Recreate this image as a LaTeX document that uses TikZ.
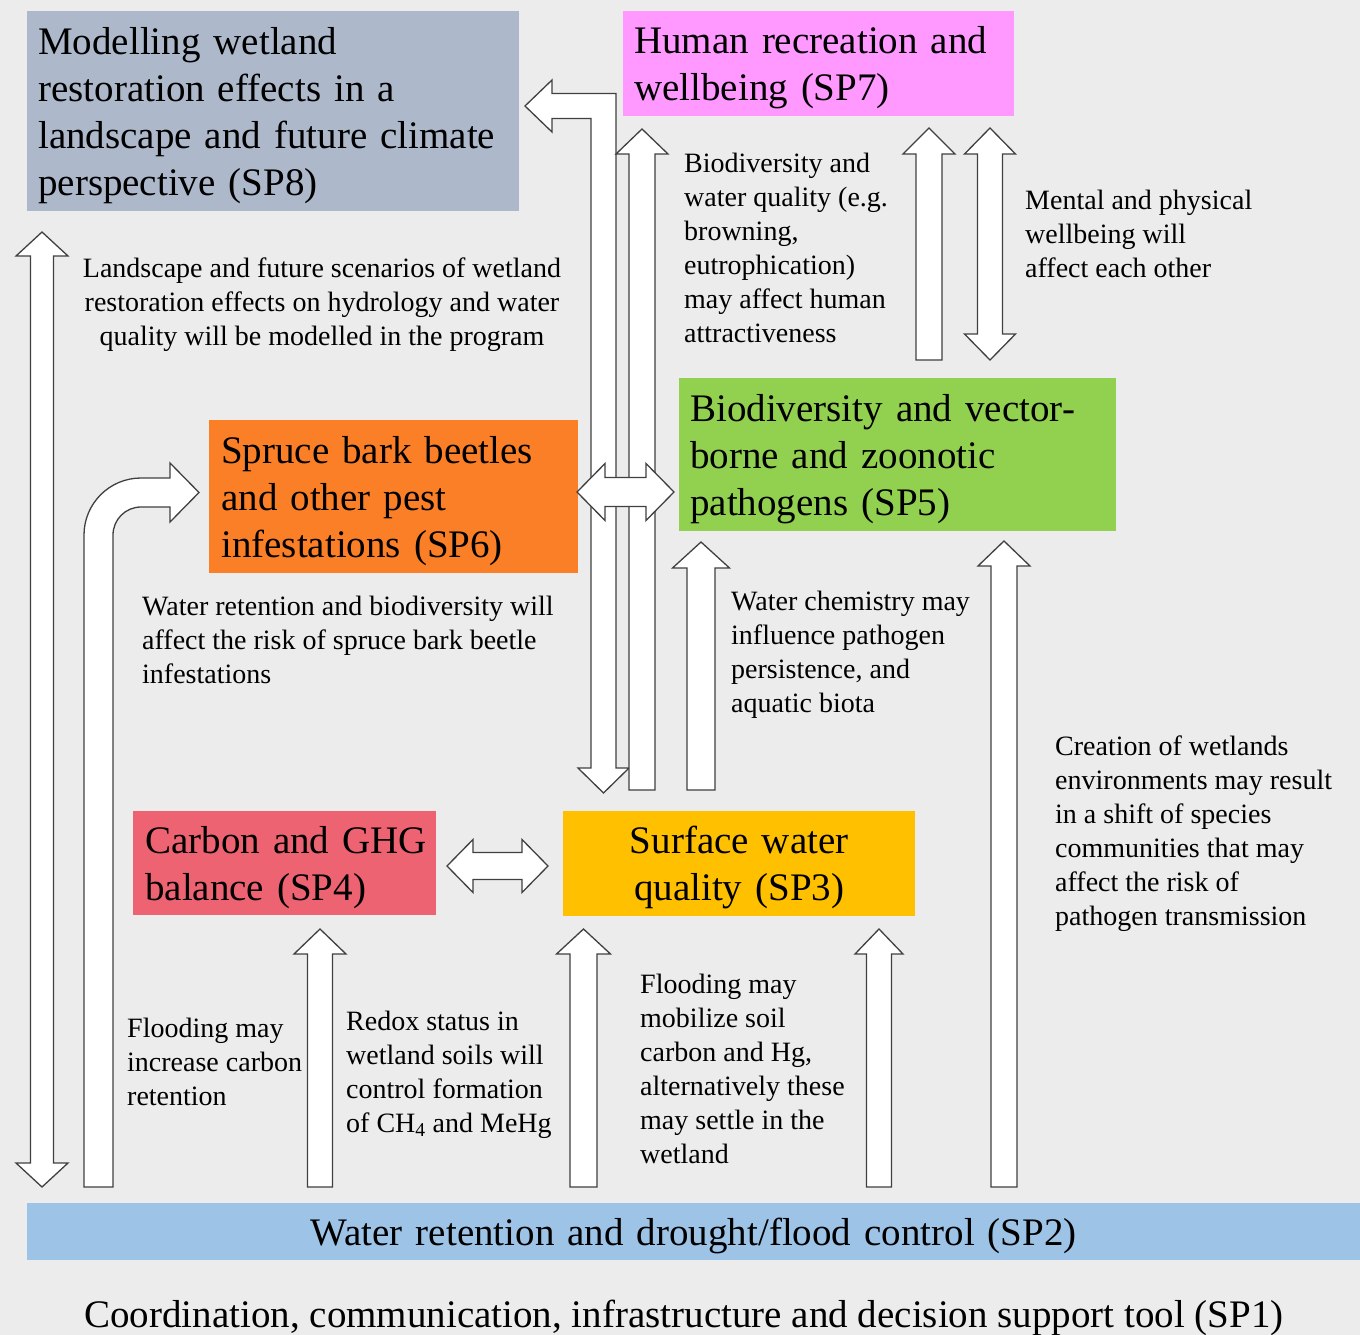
\documentclass[tikz,border=0pt]{standalone}
\usepackage{fontspec}
\setmainfont{Liberation Serif}
\usetikzlibrary{calc}
\definecolor{bgc}{HTML}{ECECEC}
\definecolor{c8}{HTML}{ADB9CA}
\definecolor{c7}{HTML}{FF99FF}
\definecolor{c5}{HTML}{92D050}
\definecolor{c6}{HTML}{FA7F26}
\definecolor{c4}{HTML}{EE6371}
\definecolor{c3}{HTML}{FFC000}
\definecolor{c2}{HTML}{9DC3E6}
\definecolor{edgec}{HTML}{404040}
\newcommand{\setarrow}[3]{\def\arsw{#1}\def\arhw{#2}\def\arhl{#3}}
\setarrow{13pt}{26pt}{25pt}
% vertical single arrow: tail #1 (bottom), tip #2 (top)
\newcommand{\uparrowbox}[2]{\draw[blockarrow] let \p1=(#1), \p2=(#2) in
  ({\x1-\arsw},\y1) -- ({\x1-\arsw},{\y2-\arhl}) -- ({\x1-\arhw},{\y2-\arhl}) -- (\x1,\y2)
  -- ({\x1+\arhw},{\y2-\arhl}) -- ({\x1+\arsw},{\y2-\arhl}) -- ({\x1+\arsw},\y1) -- cycle;}
% vertical double arrow: tip #1 (top), tip #2 (bottom)
\newcommand{\vdoublebox}[2]{\draw[blockarrow] let \p1=(#1), \p2=(#2) in
  (\x1,\y1) -- ({\x1+\arhw},{\y1-\arhl}) -- ({\x1+\arsw},{\y1-\arhl}) -- ({\x1+\arsw},{\y2+\arhl})
  -- ({\x1+\arhw},{\y2+\arhl}) -- (\x1,\y2) -- ({\x1-\arhw},{\y2+\arhl}) -- ({\x1-\arsw},{\y2+\arhl})
  -- ({\x1-\arsw},{\y1-\arhl}) -- ({\x1-\arhw},{\y1-\arhl}) -- cycle;}
% horizontal double arrow: tip #1 (left), tip #2 (right)
\newcommand{\hdoublebox}[2]{\draw[blockarrow] let \p1=(#1), \p2=(#2) in
  (\x1,\y1) -- ({\x1+\arhl},{\y1+\arhw}) -- ({\x1+\arhl},{\y1+\arsw}) -- ({\x2-\arhl},{\y1+\arsw})
  -- ({\x2-\arhl},{\y1+\arhw}) -- (\x2,\y1) -- ({\x2-\arhl},{\y1-\arhw}) -- ({\x2-\arhl},{\y1-\arsw})
  -- ({\x1+\arhl},{\y1-\arsw}) -- ({\x1+\arhl},{\y1-\arhw}) -- cycle;}
\newcommand{\lns}[1]{\begin{tabular}[t]{@{}l@{}}#1\end{tabular}}
\newcommand{\clns}[1]{\begin{tabular}[t]{@{}c@{}}#1\end{tabular}}
\newcommand{\btl}[1]{\begin{tabular}{@{}l@{}}\rule{0pt}{41pt}#1\end{tabular}}
\newcommand{\btc}[1]{\begin{tabular}{@{}c@{}}\rule{0pt}{41pt}#1\end{tabular}}
\begin{document}
\begin{tikzpicture}[x=1pt,y=-1pt,
  blockarrow/.style={draw=edgec, fill=white, line width=1.3pt, line join=miter},
  box/.style={anchor=north west, inner xsep=11pt, inner ysep=0pt, draw=none,
    font=\fontsize{39}{47}\selectfont, align=left},
  captext/.style={inner sep=0pt, font=\fontsize{28}{34}\selectfont, anchor=base west}]
\useasboundingbox (0,0) rectangle (1360,1335);
\fill[bgc] (0,0) rectangle (1360,1335);

% boxes
\node[box, fill=c8, text width=470pt, minimum height=200pt] (sp8) at (27,11)
  {\btl{Modelling wetland\\restoration effects in a\\landscape and future climate\\perspective (SP8)}};
\node[box, fill=c7, text width=369pt, minimum height=105pt] (sp7) at (623,11)
  {\btl{Human recreation and\\wellbeing (SP7)}};
\node[box, fill=c5, text width=415pt, minimum height=153pt] (sp5) at (679,378)
  {\btl{Biodiversity and vector-\\borne and zoonotic\\pathogens (SP5)}};
\node[box, fill=c6, inner xsep=12pt, text width=345pt, minimum height=153pt] (sp6) at (209,420)
  {\btl{Spruce bark beetles\\and other pest\\infestations (SP6)}};
\node[box, fill=c4, inner xsep=12pt, text width=279pt, minimum height=104pt] (sp4) at (133,811)
  {\btl{Carbon and GHG\\balance (SP4)}};
\node[box, fill=c3, align=center, text width=330pt, minimum height=105pt] (sp3) at (563,811)
  {\btc{Surface water\\quality (SP3)}};
\node[box, fill=c2, align=center, text width=1311pt, minimum height=57pt] (sp2) at (27,1203)
  {\btc{Water retention and drought/flood control (SP2)}};
\node[inner sep=0pt, anchor=base, font=\fontsize{39}{47}\selectfont] (sp1) at (684,1327)
  {Coordination, communication, infrastructure and decision support tool (SP1)};

% arrow end points
\coordinate (a8t) at (42,232);   \coordinate (a8b) at (42,1187);
\coordinate (b6t) at (98.5,1187); \coordinate (b6h) at (199,492.5);
\coordinate (c8h) at (525,106);  \coordinate (c3h) at (603.5,793);
\coordinate (d3t) at (642,790);  \coordinate (d7h) at (642,129);
\coordinate (e3t) at (701,790);  \coordinate (e5h) at (701,542);
\coordinate (f2t) at (1004,1187); \coordinate (f5h) at (1004,541);
\coordinate (g2t) at (583.5,1187); \coordinate (g3h) at (583.5,929);
\coordinate (h2t) at (879,1187); \coordinate (h3h) at (879,929);
\coordinate (i2t) at (320,1187); \coordinate (i4h) at (320,929);
\coordinate (j5t) at (929,360);  \coordinate (j7h) at (929,128);
\coordinate (k7h) at (990,128);  \coordinate (k5h) at (990,360);
\coordinate (l6h) at (577,492);  \coordinate (l5h) at (674,492);
\coordinate (m4h) at (447,866);  \coordinate (m3h) at (548,866);

% SP8 <-> SP2 (left)
\setarrow{11.5pt}{26pt}{24pt}
\vdoublebox{a8t}{a8b}

% SP2 -> SP6 (curved)
\draw[blockarrow] let \p1=(b6t), \p2=(b6h) in
  ({\x1-14.5pt},\y1) -- ({\x1-14.5pt},{\y2+14.5pt-57pt})
  arc[start angle=180, end angle=90, radius=57pt]
  -- ({\x2-29pt},{\y2+14.5pt}) -- ({\x2-29pt},{\y2+29.5pt}) -- (\x2,\y2)
  -- ({\x2-29pt},{\y2-29.5pt}) -- ({\x2-29pt},{\y2-14.5pt})
  -- ({\x1-14.5pt+57pt},{\y2-14.5pt})
  arc[start angle=90, end angle=180, radius=28pt]
  -- ({\x1+14.5pt},\y1) -- cycle;

% SP8 <-> SP3 (bent)
\draw[blockarrow] let \p1=(c8h), \p2=(c3h) in
  (\x1,\y1) -- ({\x1+27pt},{\y1+26pt}) -- ({\x1+27pt},{\y1+12.5pt})
  -- ({\x2+12.5pt},{\y1+12.5pt}) -- ({\x2+12.5pt},{\y2+25pt}) -- ({\x2+25.5pt},{\y2+25pt})
  -- (\x2,\y2) -- ({\x2-25.5pt},{\y2+25pt}) -- ({\x2-12.5pt},{\y2+25pt})
  -- ({\x2-12.5pt},{\y1-12.5pt}) -- ({\x1+27pt},{\y1-12.5pt}) -- ({\x1+27pt},{\y1-26pt}) -- cycle;

% single up arrows
\setarrow{13pt}{26pt}{25pt}
\uparrowbox{d3t}{d7h}
\setarrow{14pt}{28.5pt}{26pt}
\uparrowbox{e3t}{e5h}
\setarrow{13pt}{26pt}{25pt}
\uparrowbox{f2t}{f5h}
\setarrow{13.5pt}{27pt}{25pt}
\uparrowbox{g2t}{g3h}
\setarrow{12.5pt}{24pt}{25pt}
\uparrowbox{h2t}{h3h}
\setarrow{12.5pt}{26pt}{25pt}
\uparrowbox{i2t}{i4h}
\setarrow{13pt}{26pt}{26pt}
\uparrowbox{j5t}{j7h}

% SP7 <-> SP5
\setarrow{12.5pt}{25.5pt}{26pt}
\vdoublebox{k7h}{k5h}

% SP6 <-> SP5
\setarrow{14.5pt}{28.5pt}{28pt}
\hdoublebox{l6h}{l5h}

% SP4 <-> SP3
\setarrow{13.5pt}{26.5pt}{26pt}
\hdoublebox{m4h}{m3h}

% captions
\node[captext] (t87) at (684,172)
  {\lns{Biodiversity and\\water quality (e.g.\\browning,\\eutrophication)\\may affect human\\attractiveness}};
\node[captext] (t77) at (1025,209)
  {\lns{Mental and physical\\wellbeing will\\affect each other}};
\node[captext, anchor=base] (t82) at (322,277)
  {\clns{Landscape and future scenarios of wetland\\restoration effects on hydrology and water\\quality will be modelled in the program}};
\node[captext] (t62) at (142,615)
  {\lns{Water retention and biodiversity will\\affect the risk of spruce bark beetle\\infestations}};
\node[captext] (t53) at (731,610)
  {\lns{Water chemistry may\\influence pathogen\\persistence, and\\aquatic biota}};
\node[captext] (t52) at (1055,755)
  {\lns{Creation of wetlands\\environments may result\\in a shift of species\\communities that may\\affect the risk of\\pathogen transmission}};
\node[captext] (t42) at (127,1037)
  {\lns{Flooding may\\increase carbon\\retention}};
\node[captext] (t42b) at (346,1030)
  {\lns{Redox status in\\wetland soils will\\control formation\\of CH\textsubscript{4} and MeHg}};
\node[captext] (t32) at (640,993)
  {\lns{Flooding may\\mobilize soil\\carbon and Hg,\\alternatively these\\may settle in the\\wetland}};
\end{tikzpicture}
\end{document}
